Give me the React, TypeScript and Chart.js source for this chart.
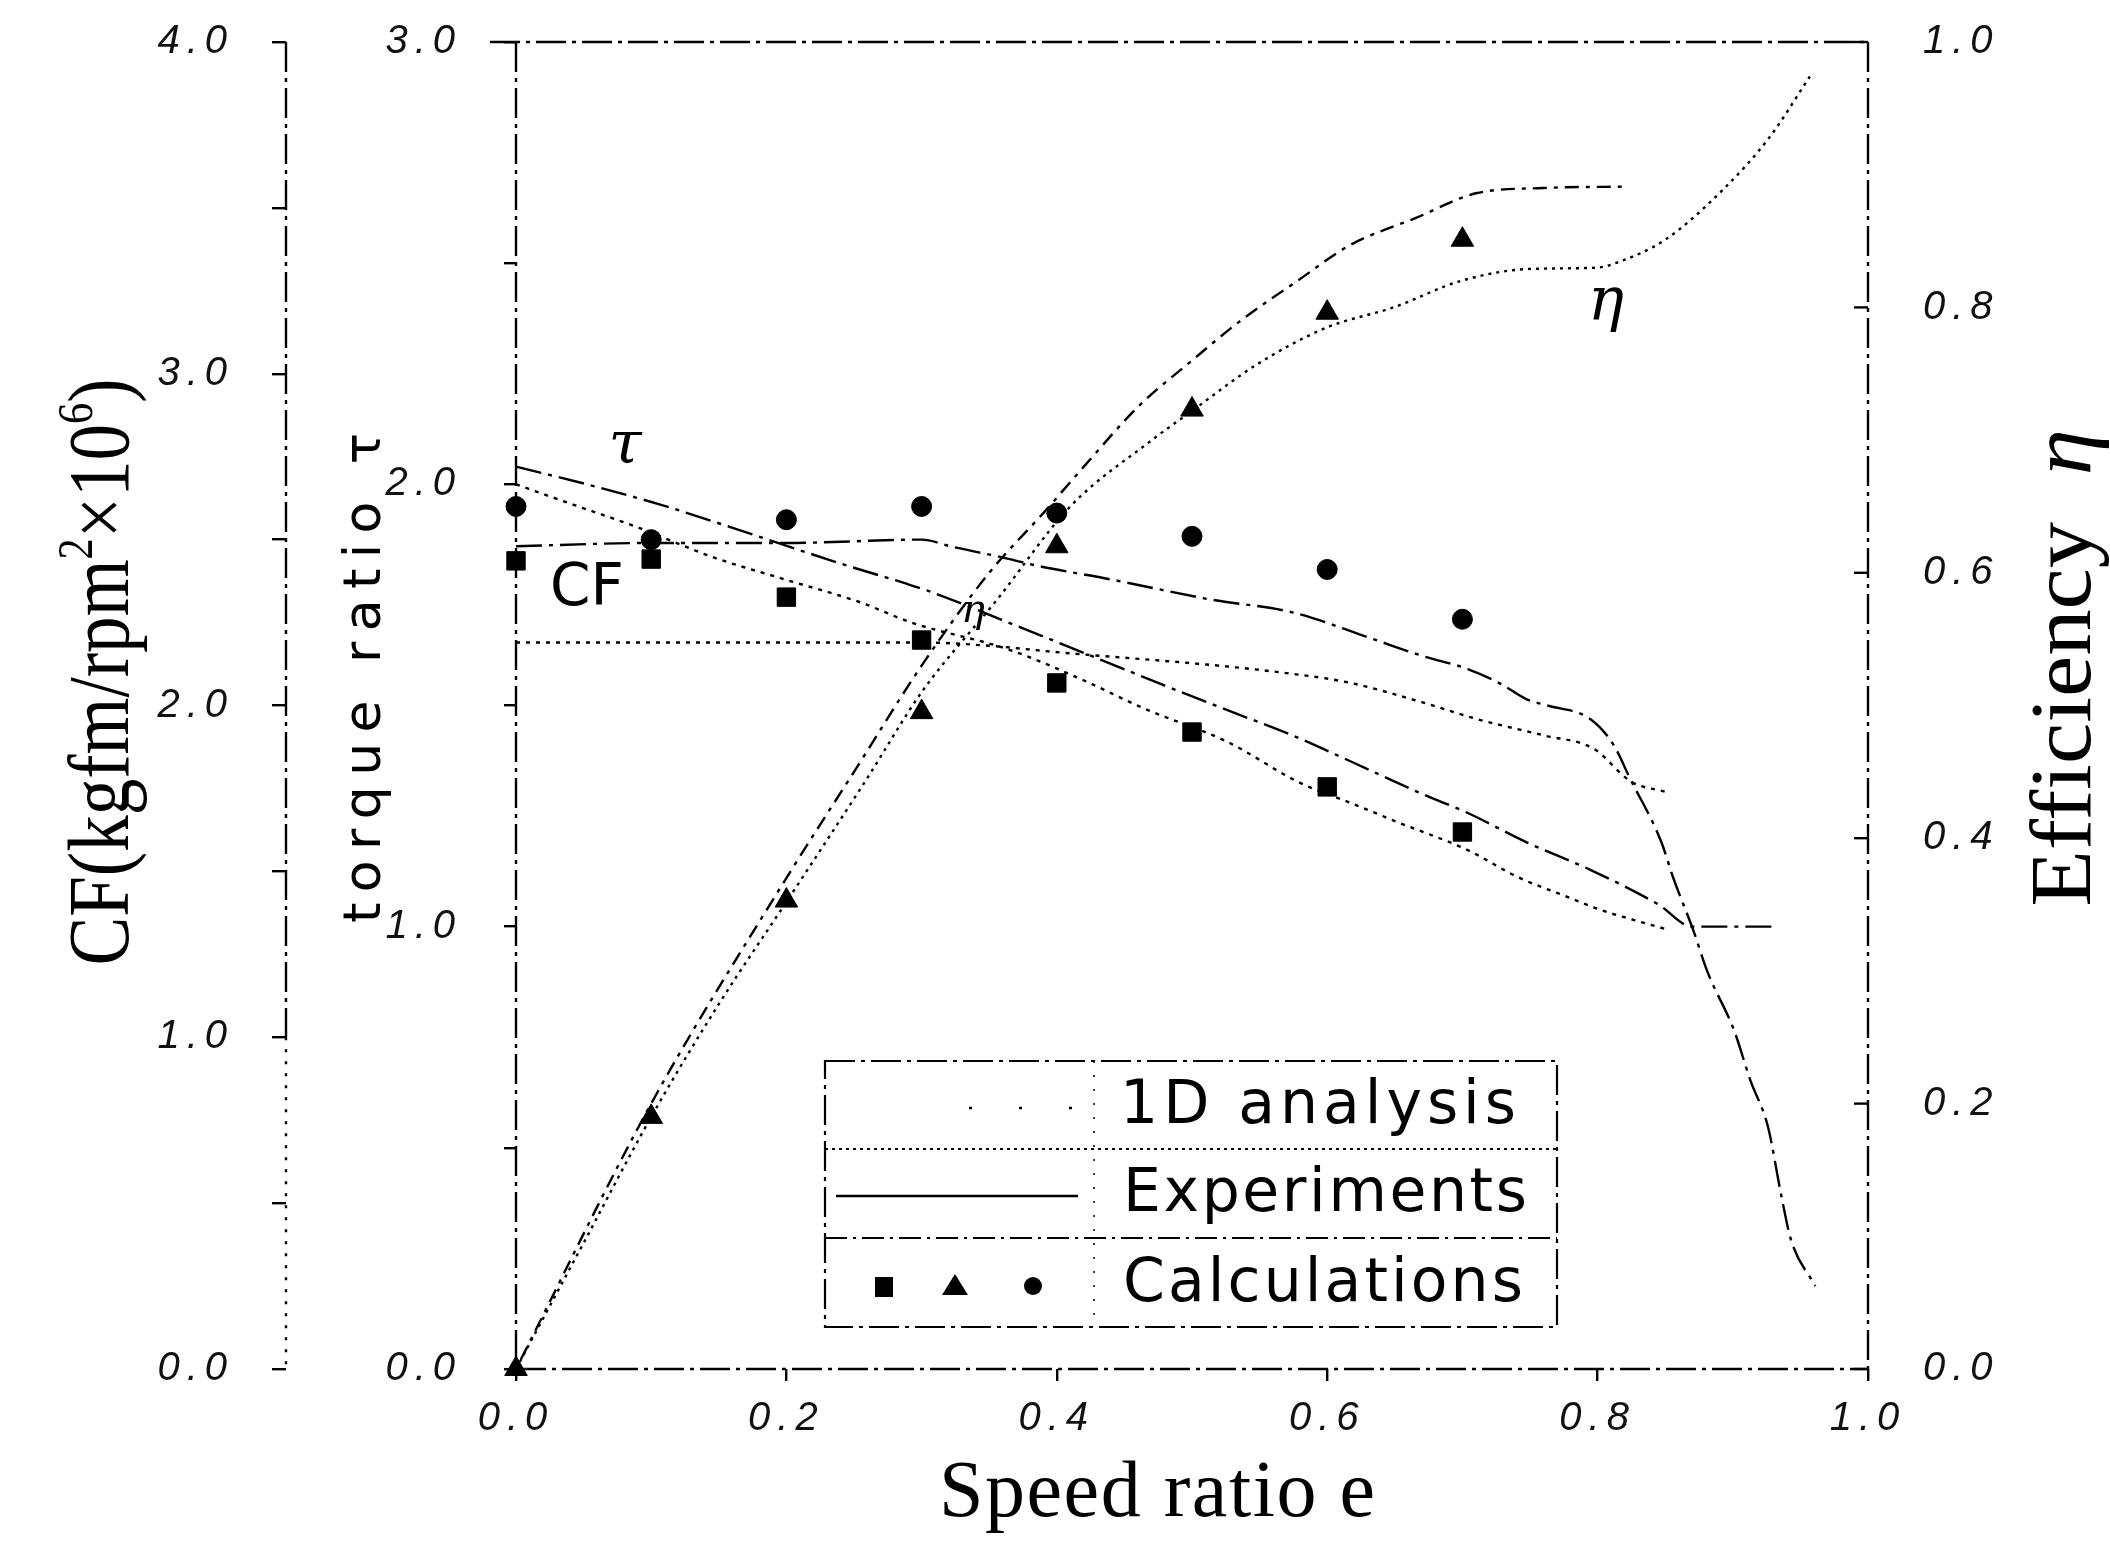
import React, { useEffect, useRef } from 'react';
import { Chart, registerables } from 'chart.js';

Chart.register(...registerables);

const W = 2110;
const H = 1564;

// ---------- data ----------
// Calculations (markers)
const calcE = [0, 0.1, 0.2, 0.3, 0.4, 0.5, 0.6, 0.7];
const torqueCalc = [1.827, 1.831, 1.745, 1.648, 1.551, 1.44, 1.316, 1.214];
const effCalc = [0, 0.19, 0.353, 0.495, 0.62, 0.723, 0.796, 0.851];
const cfCalc = [2.6, 2.5, 2.56, 2.6, 2.58, 2.51, 2.41, 2.26];

// Torque ratio, experiments
const torqueExpE = [0, 0.06, 0.108, 0.158, 0.241, 0.287, 0.304, 0.381, 0.48, 0.53, 0.573, 0.62, 0.668, 0.704, 0.748, 0.795, 0.845, 0.87, 0.93];
const torqueExp = [2.04, 1.994, 1.953, 1.904, 1.82, 1.777, 1.76, 1.667, 1.545, 1.485, 1.434, 1.37, 1.303, 1.257, 1.19, 1.128, 1.05, 1.0, 1.0];

// Torque ratio, 1D analysis
const torque1dE = [0, 0.022, 0.049, 0.089, 0.145, 0.2, 0.254, 0.293, 0.365, 0.419, 0.464, 0.526, 0.58, 0.617, 0.654, 0.704, 0.741, 0.778, 0.802, 0.827, 0.85];
const torque1d = [2.0, 1.976, 1.947, 1.904, 1.836, 1.784, 1.734, 1.687, 1.626, 1.558, 1.494, 1.418, 1.325, 1.28, 1.234, 1.173, 1.112, 1.067, 1.038, 1.015, 0.995];

// Capacity factor, experiments
const cfExpE = [0, 0.1, 0.2, 0.3, 0.323, 0.358, 0.387, 0.44, 0.513, 0.575, 0.634, 0.67, 0.704, 0.728, 0.748, 0.763, 0.795, 0.812, 0.824, 0.847, 0.856, 0.871, 0.881, 0.901, 0.913, 0.926, 0.936, 0.943, 0.961];
const cfExp = [2.48, 2.49, 2.49, 2.5, 2.478, 2.448, 2.42, 2.38, 2.32, 2.28, 2.2, 2.15, 2.11, 2.066, 2.018, 2.0, 1.958, 1.88, 1.78, 1.59, 1.48, 1.32, 1.2, 1.02, 0.87, 0.73, 0.52, 0.39, 0.25];

// Capacity factor, 1D analysis
const cf1dE = [0, 0.1, 0.2, 0.3, 0.35, 0.402, 0.52, 0.565, 0.615, 0.67, 0.71, 0.76, 0.797, 0.825, 0.85];
const cf1d = [2.19, 2.19, 2.19, 2.19, 2.18, 2.16, 2.12, 2.1, 2.07, 2.01, 1.96, 1.91, 1.87, 1.77, 1.74];

// Efficiency, experiments
const effExpE = [0, 0.05, 0.1, 0.15, 0.2, 0.259, 0.3, 0.356, 0.41, 0.469, 0.5, 0.548, 0.6, 0.649, 0.699, 0.75, 0.8, 0.815, 0.85, 0.893, 0.927, 0.957];
const effExp = [0, 0.095, 0.19, 0.275, 0.352, 0.444, 0.51, 0.58, 0.65, 0.699, 0.722, 0.757, 0.785, 0.8, 0.82, 0.829, 0.83, 0.834, 0.851, 0.889, 0.928, 0.974];

// Efficiency, 1D analysis
const eff1dE = [0, 0.1, 0.2, 0.25, 0.3, 0.35, 0.39, 0.42, 0.46, 0.5, 0.536, 0.578, 0.617, 0.667, 0.71, 0.76, 0.818];
const eff1d = [0, 0.2, 0.37, 0.45, 0.53, 0.6, 0.645, 0.68, 0.725, 0.76, 0.79, 0.82, 0.847, 0.868, 0.886, 0.89, 0.891];

// texts
const legendLabels = ['1D analysis', 'Experiments', 'Calculations'];
const xTitle = 'Speed ratio e';
const torqueTitle = 'torque ratio τ';
const effTitleParts = [
  { t: 'Efficiency  ', sup: false, it: false },
  { t: 'η', sup: false, it: true },
];
const cfTitleParts = [
  { t: 'CF(kgfm/rpm', sup: false, it: false },
  { t: '2', sup: true, it: false },
  { t: '×10', sup: false, it: false },
  { t: '6', sup: true, it: false },
  { t: ')', sup: false, it: false },
];

// ---------- styles ----------
const INK = '#000';
const EXP_DASH = [26, 7, 4, 7];
const ONE_D_DASH = [4, 6];
const FRAME_DASH = [30, 6, 4, 6];
const TICK_FONT = { family: '"Liberation Sans", Arial, sans-serif', size: 40, style: 'italic' as const, weight: 'normal' as const };
const SERIF = '"Liberation Serif", "Times New Roman", serif';
const SANS = '"DejaVu Sans", "Liberation Sans", sans-serif';

const pts = (xs: number[], ys: number[]) => xs.map((x, i) => ({ x, y: ys[i] }));

function lineDs(label: string, xs: number[], ys: number[], axis: string, dash: number[]) {
  return {
    type: 'line' as const,
    label,
    data: pts(xs, ys),
    yAxisID: axis,
    xAxisID: 'x',
    borderColor: INK,
    borderWidth: 2.4,
    borderDash: dash,
    pointRadius: 0,
    fill: false,
    cubicInterpolationMode: 'monotone' as const,
    clip: false as const,
  };
}

function markDs(label: string, ys: number[], axis: string, style: string, r: number) {
  return {
    type: 'scatter' as const,
    label,
    data: pts(calcE, ys),
    yAxisID: axis,
    xAxisID: 'x',
    pointStyle: style,
    pointRadius: r,
    backgroundColor: INK,
    borderColor: INK,
    borderWidth: 1,
    showLine: false,
    clip: false as const,
  };
}

function spacing(ctx: CanvasRenderingContext2D, text: string, target: number) {
  ctx.letterSpacing = '0px';
  const w = ctx.measureText(text).width;
  const n = Array.from(text).length;
  return n > 1 ? Math.max(0, (target - w) / (n - 1)) : 0;
}

function drawFitted(ctx: CanvasRenderingContext2D, text: string, left: number, baseline: number, target: number) {
  const ls = spacing(ctx, text, target);
  ctx.letterSpacing = `${ls}px`;
  ctx.textAlign = 'left';
  ctx.textBaseline = 'alphabetic';
  ctx.fillText(text, left, baseline);
  ctx.letterSpacing = '0px';
}

// rotated (reading bottom-to-top) rich text, centred on (cx, cy) along its length
function drawRotatedRich(
  ctx: CanvasRenderingContext2D,
  parts: { t: string; sup: boolean; it: boolean }[],
  cx: number,
  cy: number,
  size: number,
  stretch: number,
) {
  ctx.save();
  ctx.translate(cx, cy);
  ctx.rotate(-Math.PI / 2);
  ctx.scale(stretch, 1);
  const fontOf = (p: { sup: boolean; it: boolean }) =>
    `${p.it ? 'italic ' : ''}${p.sup ? size * 0.58 : size}px ${SERIF}`;
  let total = 0;
  const measured = parts.map((p) => {
    ctx.font = fontOf(p);
    const w = ctx.measureText(p.t).width;
    total += w;
    return { ...p, w };
  });
  let x = -total / 2;
  ctx.textAlign = 'left';
  ctx.textBaseline = 'alphabetic';
  for (const p of measured) {
    ctx.font = fontOf(p);
    ctx.fillText(p.t, x, p.sup ? -size * 0.42 : 0);
    x += p.w;
  }
  ctx.restore();
}

const intLabel = (v: number | string) => {
  const n = Number(v);
  return Math.abs(n - Math.round(n)) < 1e-6 ? n.toFixed(1) : '';
};

const fitTo = (prop: 'width' | 'height', size: number) => (s: any) => {
  s[prop] = size;
  s.paddingTop = 0;
  s.paddingBottom = 0;
  s.paddingLeft = 0;
  s.paddingRight = 0;
};

const decorPlugin = {
  id: 'decor',
  beforeDraw(chart: any) {
    chart.ctx.letterSpacing = '7px';
  },
  beforeDatasetsDraw(chart: any) {
    const ctx: CanvasRenderingContext2D = chart.ctx;
    const { left, right, top, bottom } = chart.chartArea;
    const sCF = chart.scales.yCF;
    const sE = chart.scales.yE;
    ctx.save();
    ctx.letterSpacing = '0px';
    ctx.strokeStyle = INK;
    ctx.lineWidth = 2.4;
    ctx.setLineDash(FRAME_DASH);
    ctx.beginPath();
    ctx.moveTo(left - 26, top);
    ctx.lineTo(right, top);
    ctx.moveTo(right, top);
    ctx.lineTo(right, bottom);
    ctx.moveTo(left, top);
    ctx.lineTo(left, bottom);
    ctx.moveTo(left, bottom);
    ctx.lineTo(right, bottom);
    ctx.stroke();

    // outer CF axis line
    const xa = sCF.right;
    const yTop = sCF.getPixelForValue(4);
    const yMid = sCF.getPixelForValue(1);
    const yBot = sCF.getPixelForValue(0);
    ctx.beginPath();
    ctx.moveTo(xa, yTop);
    ctx.lineTo(xa, yMid);
    ctx.stroke();
    ctx.setLineDash([3, 9]);
    ctx.beginPath();
    ctx.moveTo(xa, yMid);
    ctx.lineTo(xa, yBot);
    ctx.stroke();

    // inward ticks on the efficiency axis
    ctx.setLineDash([]);
    for (const t of sE.ticks) {
      const y = sE.getPixelForValue(t.value);
      ctx.beginPath();
      ctx.moveTo(right - 14, y);
      ctx.lineTo(right, y);
      ctx.stroke();
    }
    ctx.restore();
  },
  afterDraw(chart: any) {
    const ctx: CanvasRenderingContext2D = chart.ctx;
    ctx.save();
    ctx.letterSpacing = '0px';
    ctx.fillStyle = INK;
    ctx.strokeStyle = INK;

    // ---- axis titles
    drawRotatedRich(ctx, cfTitleParts, 128, 672, 86, 0.85);
    drawRotatedRich(ctx, effTitleParts, 2090, 668, 86, 1.08);

    {
      ctx.save();
      ctx.translate(380, 678);
      ctx.rotate(-Math.PI / 2);
      ctx.font = `52px ${SANS}`;
      drawFitted(ctx, torqueTitle, -245, 0, 490);
      ctx.restore();
    }

    ctx.font = `80px ${SERIF}`;
    drawFitted(ctx, xTitle, 939, 1516, 436);

    // ---- annotations
    ctx.font = `italic 60px "DejaVu Serif", serif`;
    ctx.textAlign = 'center';
    ctx.textBaseline = 'alphabetic';
    ctx.fillText('τ', 625, 463);
    ctx.fillText('η', 1606, 320);
    ctx.font = `italic 40px "DejaVu Serif", serif`;
    ctx.fillText('η', 973, 622);
    ctx.font = `58px ${SANS}`;
    drawFitted(ctx, 'CF', 550, 605, 73);

    // ---- legend box
    const LX0 = 825, LX1 = 1557, LY0 = 1061, LY1 = 1327, LS1 = 1149, LS2 = 1238, LDIV = 1094;
    ctx.lineWidth = 2.2;
    ctx.setLineDash(FRAME_DASH);
    ctx.strokeRect(LX0, LY0, LX1 - LX0, LY1 - LY0);
    ctx.setLineDash([3, 4]);
    ctx.beginPath();
    ctx.moveTo(LX0, LS1);
    ctx.lineTo(LX1, LS1);
    ctx.stroke();
    ctx.setLineDash([22, 6, 3, 6]);
    ctx.beginPath();
    ctx.moveTo(LX0, LS2);
    ctx.lineTo(LX1, LS2);
    ctx.stroke();
    ctx.setLineDash([2, 12]);
    ctx.lineWidth = 1.5;
    ctx.beginPath();
    ctx.moveTo(LDIV, LY0);
    ctx.lineTo(LDIV, LY1);
    ctx.stroke();

    // legend samples
    ctx.lineWidth = 2.4;
    ctx.setLineDash([3, 47]);
    ctx.beginPath();
    ctx.moveTo(969, 1108);
    ctx.lineTo(1080, 1108);
    ctx.stroke();
    ctx.setLineDash([]);
    ctx.beginPath();
    ctx.moveTo(836, 1196);
    ctx.lineTo(1078, 1196);
    ctx.stroke();
    ctx.fillRect(875, 1277, 18, 20);
    ctx.beginPath();
    ctx.moveTo(955, 1274);
    ctx.lineTo(968, 1295);
    ctx.lineTo(942, 1295);
    ctx.closePath();
    ctx.fill();
    ctx.beginPath();
    ctx.arc(1033, 1286, 9, 0, Math.PI * 2);
    ctx.fill();

    // legend texts
    ctx.font = `60px ${SANS}`;
    drawFitted(ctx, legendLabels[0], 1120, 1123, 396);
    drawFitted(ctx, legendLabels[1], 1123, 1211, 404);
    drawFitted(ctx, legendLabels[2], 1123, 1301, 400);

    ctx.restore();
  },
};

export default function App() {
  const ref = useRef<HTMLCanvasElement | null>(null);

  useEffect(() => {
    document.body.style.margin = '0';
    const canvas = ref.current;
    if (!canvas) return;

    const tickGrid = (len: number) => ({
      display: true,
      drawOnChartArea: false,
      drawTicks: true,
      tickLength: len,
      color: INK,
      lineWidth: 2.4,
    });

    const chart = new Chart(canvas, {
      type: 'line',
      data: {
        datasets: [
          lineDs('Torque ratio – 1D analysis', torque1dE, torque1d, 'yT', ONE_D_DASH),
          lineDs('Torque ratio – experiments', torqueExpE, torqueExp, 'yT', EXP_DASH),
          lineDs('CF – 1D analysis', cf1dE, cf1d, 'yCF', ONE_D_DASH),
          lineDs('CF – experiments', cfExpE, cfExp, 'yCF', EXP_DASH),
          lineDs('Efficiency – 1D analysis', eff1dE, eff1d, 'yE', [4, 7, 14, 7]),
          lineDs('Efficiency – experiments', effExpE, effExp, 'yE', [3, 5]),
          markDs('Torque ratio – calculations', torqueCalc, 'yT', 'rect', 13),
          markDs('Efficiency – calculations', effCalc, 'yE', 'triangle', 13),
          markDs('CF – calculations', cfCalc, 'yCF', 'circle', 10),
        ] as any,
      },
      options: {
        animation: false,
        responsive: false,
        devicePixelRatio: 1,
        events: [],
        layout: { padding: { top: 42, left: 0, right: 0, bottom: 0 } },
        plugins: {
          legend: { display: false },
          tooltip: { enabled: false },
          title: { display: false },
        },
        scales: {
          x: {
            type: 'linear',
            position: 'bottom',
            min: 0,
            max: 1,
            afterFit: fitTo('height', 195),
            border: { display: false },
            grid: tickGrid(12),
            ticks: {
              stepSize: 0.2,
              autoSkip: false,
              maxRotation: 0,
              padding: 14,
              color: '#111',
              font: TICK_FONT,
              callback: (v: any) => Number(v).toFixed(1),
            },
          },
          yCF: {
            type: 'linear',
            position: 'left',
            weight: 1,
            min: 0,
            max: 4,
            afterFit: fitTo('width', 286),
            border: { display: false },
            grid: tickGrid(14),
            ticks: {
              stepSize: 0.5,
              autoSkip: false,
              padding: 38,
              color: '#111',
              font: TICK_FONT,
              callback: intLabel,
            },
          },
          yT: {
            type: 'linear',
            position: 'left',
            weight: 0,
            min: 0,
            max: 3,
            afterFit: fitTo('width', 230),
            border: { display: false },
            grid: tickGrid(12),
            ticks: {
              stepSize: 0.5,
              autoSkip: false,
              padding: 42,
              color: '#111',
              font: TICK_FONT,
              callback: intLabel,
            },
          },
          yE: {
            type: 'linear',
            position: 'right',
            min: 0,
            max: 1,
            afterFit: fitTo('width', 242),
            border: { display: false },
            grid: { display: false, drawTicks: false, drawOnChartArea: false },
            ticks: {
              stepSize: 0.2,
              autoSkip: false,
              padding: 55,
              color: '#111',
              font: TICK_FONT,
              callback: (v: any) => Number(v).toFixed(1),
            },
          },
        },
      } as any,
      plugins: [decorPlugin],
    });

    return () => chart.destroy();
  }, []);

  return (
    <div style={{ position: 'absolute', left: 0, top: 0, width: W, height: H, background: '#fff' }}>
      <canvas ref={ref} width={W} height={H} style={{ width: W, height: H, display: 'block' }} />
    </div>
  );
}
